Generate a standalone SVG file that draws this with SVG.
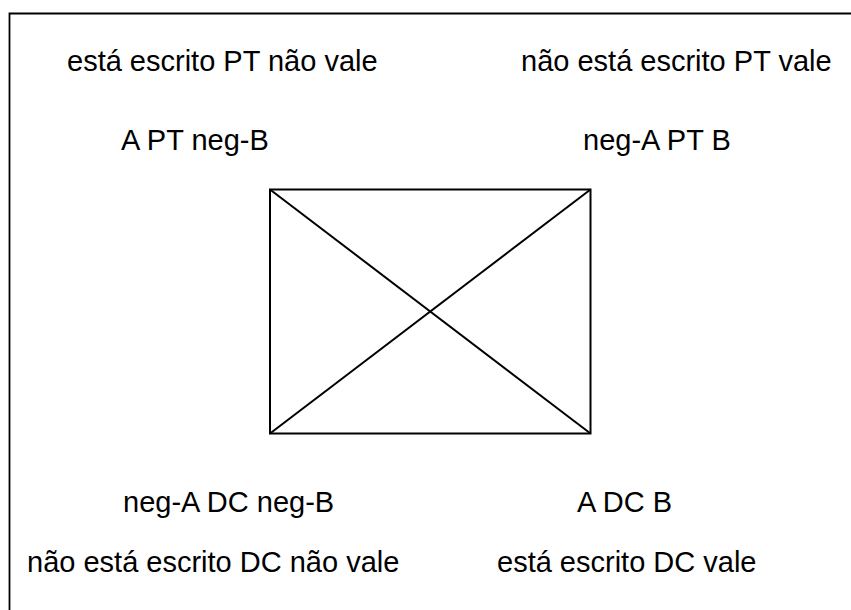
<svg xmlns="http://www.w3.org/2000/svg" width="851" height="610" viewBox="0 0 851 610">
<style>
.t{font-family:"Liberation Sans",Arial,sans-serif;font-size:29px;fill:#000}
.ln{fill:none;stroke:#000;stroke-width:2}
</style>
<rect x="0" y="0" width="851" height="610" fill="#fff"/>
<path d="M9.5 610 V13.5 H851" fill="none" stroke="#000" stroke-width="1.8"/>
<g id="connectors">
<rect class="ln" x="270" y="189.5" width="320.5" height="244"/>
<line class="ln" x1="270" y1="189.5" x2="590.5" y2="433.5"/>
<line class="ln" x1="590.5" y1="189.5" x2="270" y2="433.5"/>
</g>
<g id="top-left-label"><text class="t" x="67" y="70.5">está escrito PT não vale</text></g>
<g id="top-right-label"><text class="t" x="521" y="70.5">não está escrito PT vale</text></g>
<g id="node-A-PT-negB"><text class="t" x="121" y="149.5">A PT neg-B</text></g>
<g id="node-negA-PT-B"><text class="t" x="583" y="149.5">neg-A PT B</text></g>
<g id="node-negA-DC-negB"><text class="t" x="123" y="511.5">neg-A DC neg-B</text></g>
<g id="node-A-DC-B"><text class="t" x="577" y="511.5">A DC B</text></g>
<g id="bottom-left-label"><text class="t" x="27" y="572">não está escrito DC não vale</text></g>
<g id="bottom-right-label"><text class="t" x="497" y="572">está escrito DC vale</text></g>
</svg>
